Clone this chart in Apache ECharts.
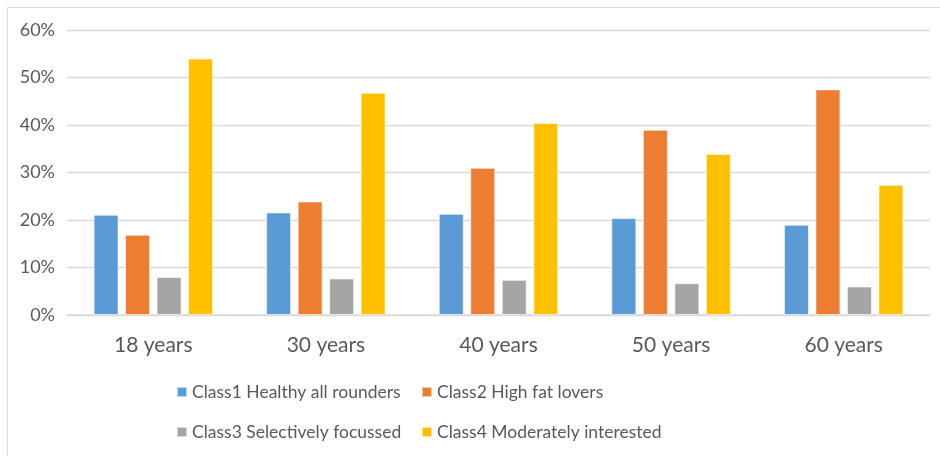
<!DOCTYPE html>
<html>
<head>
<meta charset="utf-8">
<script src="https://cdn.jsdelivr.net/npm/echarts@6/dist/echarts.min.js"></script>
<style>html,body{margin:0;padding:0;background:#fff}#c{width:940px;height:456px}</style>
</head>
<body>
<div id="c"></div>
<script>
var categories = ['18 years', '30 years', '40 years', '50 years', '60 years'];
var seriesNames = ['Class1 Healthy all rounders', 'Class2 High fat lovers', 'Class3 Selectively focussed', 'Class4 Moderately interested'];
var class1 = [21.1, 21.6, 21.3, 20.4, 19.0];
var class2 = [16.9, 23.9, 31.0, 39.0, 47.5];
var class3 = [8.0, 7.7, 7.4, 6.7, 6.0];
var class4 = [54.0, 46.8, 40.4, 33.9, 27.4];
var yTicks = [0, 10, 20, 30, 40, 50, 60];

var colors = ['#5B9BD5', '#ED7D31', '#A5A5A5', '#FFC000'];
var txt = '#595959';
var font = 'Lato';
var values = [class1, class2, class3, class4];

var chart = echarts.init(document.getElementById('c'), null, {renderer: 'canvas'});
chart.setOption({
  animation: false,
  backgroundColor: '#fff',
  color: colors,
  textStyle: {fontFamily: font},
  graphic: [{
    type: 'rect', shape: {x: 7.5, y: 7.5, width: 1000, height: 1000},
    style: {fill: 'none', stroke: '#d9d9d9', lineWidth: 1}, silent: true
  }],
  grid: {left: 67, right: 10, top: 30, bottom: 141, containLabel: false},
  legend: [{
    orient: 'vertical', left: 176, top: 382, padding: 0, itemWidth: 10, itemHeight: 10, itemGap: 20,
    icon: 'rect', textStyle: {color: txt, fontSize: 17.5, fontFamily: font, lineHeight: 20},
    data: [seriesNames[0], seriesNames[2]]
  }, {
    orient: 'vertical', left: 421, top: 382, padding: 0, itemWidth: 10, itemHeight: 10, itemGap: 20,
    icon: 'rect', textStyle: {color: txt, fontSize: 17.5, fontFamily: font, lineHeight: 20},
    data: [seriesNames[1], seriesNames[3]]
  }],
  xAxis: {
    type: 'category', data: categories,
    axisLine: {show: true, lineStyle: {color: '#d9d9d9', width: 1.5}},
    axisTick: {show: false},
    axisLabel: {color: txt, fontSize: 21, fontFamily: font, margin: 20}
  },
  yAxis: {
    type: 'value', min: 0, max: 60, interval: 10,
    axisLine: {show: false}, axisTick: {show: false},
    splitLine: {lineStyle: {color: '#d9d9d9', width: 1.3}},
    axisLabel: {color: txt, fontSize: 18, fontFamily: font, margin: 12,
      formatter: function (v) { return yTicks.indexOf(v) >= 0 ? v + '%' : ''; }}
  },
  series: values.map(function (vals, i) {
    return {
      name: seriesNames[i], type: 'bar', data: vals,
      barWidth: 25, barGap: '26%',
      itemStyle: {color: colors[i], borderColor: 'rgba(255,255,255,0.6)', borderWidth: 1}
    };
  })
});
</script>
</body>
</html>
